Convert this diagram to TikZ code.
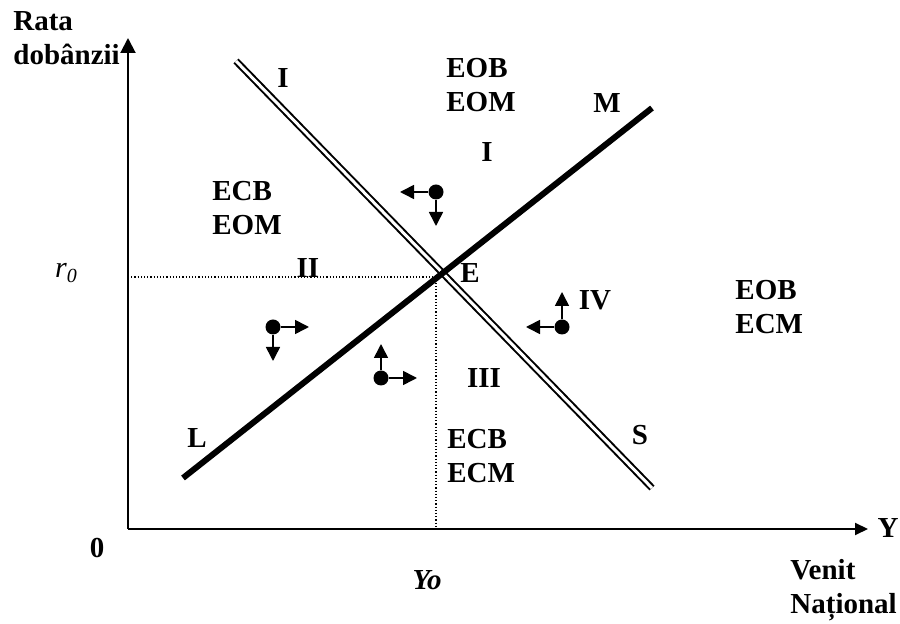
\documentclass[tikz,border=0pt]{standalone}
\usepackage{fontspec}
\setmainfont{Liberation Serif}
\usetikzlibrary{arrows.meta}

\begin{document}
\begin{tikzpicture}[x=0.5pt, y=-0.5pt, >={Triangle[length=7pt,width=7pt]}, %Pfeilspitzen
	lbl/.style={font=\fontsize{14.5}{16.8}\selectfont\bfseries, inner sep=0pt, align=left},
	pt/.style={circle, fill=black, inner sep=0pt, minimum size=7.5pt},
	move/.style={->, line width=0.8pt}]
	\useasboundingbox (0,0) rectangle (900,624);
	% Achsen
	\coordinate (O) at (128,529);
	\coordinate (ytop) at (128,38);
	\coordinate (xend) at (868,529);
	\draw [line width=1pt, ->, >={Triangle[length=7.5pt,width=7.5pt]}] (O) -- (ytop);
	\draw [line width=1pt, ->, >={Triangle[length=6.5pt,width=6pt]}] (O) -- (xend);
	% Kurven
	\coordinate (IStop) at (236,61);
	\coordinate (ISbot) at (652,488);
	\coordinate (LMbot) at (183,478);
	\coordinate (LMtop) at (652,108);
	\draw [double, line width=1pt, double distance=1.5pt] (IStop) -- (ISbot);
	\draw [line width=3pt] (LMbot) -- (LMtop);
	% Gleichgewicht
	\coordinate (E) at (436,277);
	\draw [dash pattern=on 0.6pt off 1pt, line width=0.6pt] (O |- E) -- (E) -- (E |- O);
	\begin{scope}[every node/.style={lbl}]
		\node [anchor=west] (axr) at (13,38) {Rata\\dobânzii};
		\node (zero) at (97,548) {0};
		\node (axy) at (888,528) {Y};
		\node [anchor=west] (axv) at (790,590) {Venit\\Național};
		\node [font=\fontsize{14.5}{16.8}\selectfont\bfseries\itshape] (y0) at (427,580) {Yo};
		\node [font=\fontsize{15}{16.8}\selectfont\itshape] (r0) at (66,273) {r\raisebox{-0.35ex}{\fontsize{10}{11}\selectfont 0}};
		\node (labI) at (283,78) {I};
		\node (labM) at (607,103) {M};
		\node (labL) at (197,438) {L};
		\node (labS) at (640,435) {S};
		\node (labE) at (470,273) {E};
		\node [anchor=west] (zone1) at (446,85) {EOB\\EOM};
		\node [anchor=west] (zone2) at (212,208) {ECB\\EOM};
		\node [anchor=west] (zone3) at (447,456) {ECB\\ECM};
		\node [anchor=west] (zone4) at (735,307) {EOB\\ECM};
		\node (rom1) at (487,152) {I};
		\node (rom2) at (308,268) {II};
		\node (rom3) at (484,378) {III};
		\node (rom4) at (595,300) {IV};
	\end{scope}
	% Anpassungspfeile
	\node [pt] (d1) at (436,192) {};
	\coordinate (d1h) at (400,192);
	\coordinate (d1v) at (436,226);
	\draw [move] (d1) -- (d1h);
	\draw [move] (d1) -- (d1v);
	\node [pt] (d2) at (273,327) {};
	\coordinate (d2h) at (309,327);
	\coordinate (d2v) at (273,361);
	\draw [move] (d2) -- (d2h);
	\draw [move] (d2) -- (d2v);
	\node [pt] (d3) at (381,378) {};
	\coordinate (d3h) at (417,378);
	\coordinate (d3v) at (381,344);
	\draw [move] (d3) -- (d3h);
	\draw [move] (d3) -- (d3v);
	\node [pt] (d4) at (562,327) {};
	\coordinate (d4h) at (526,327);
	\coordinate (d4v) at (562,292);
	\draw [move] (d4) -- (d4h);
	\draw [move] (d4) -- (d4v);
\end{tikzpicture}
\end{document}
